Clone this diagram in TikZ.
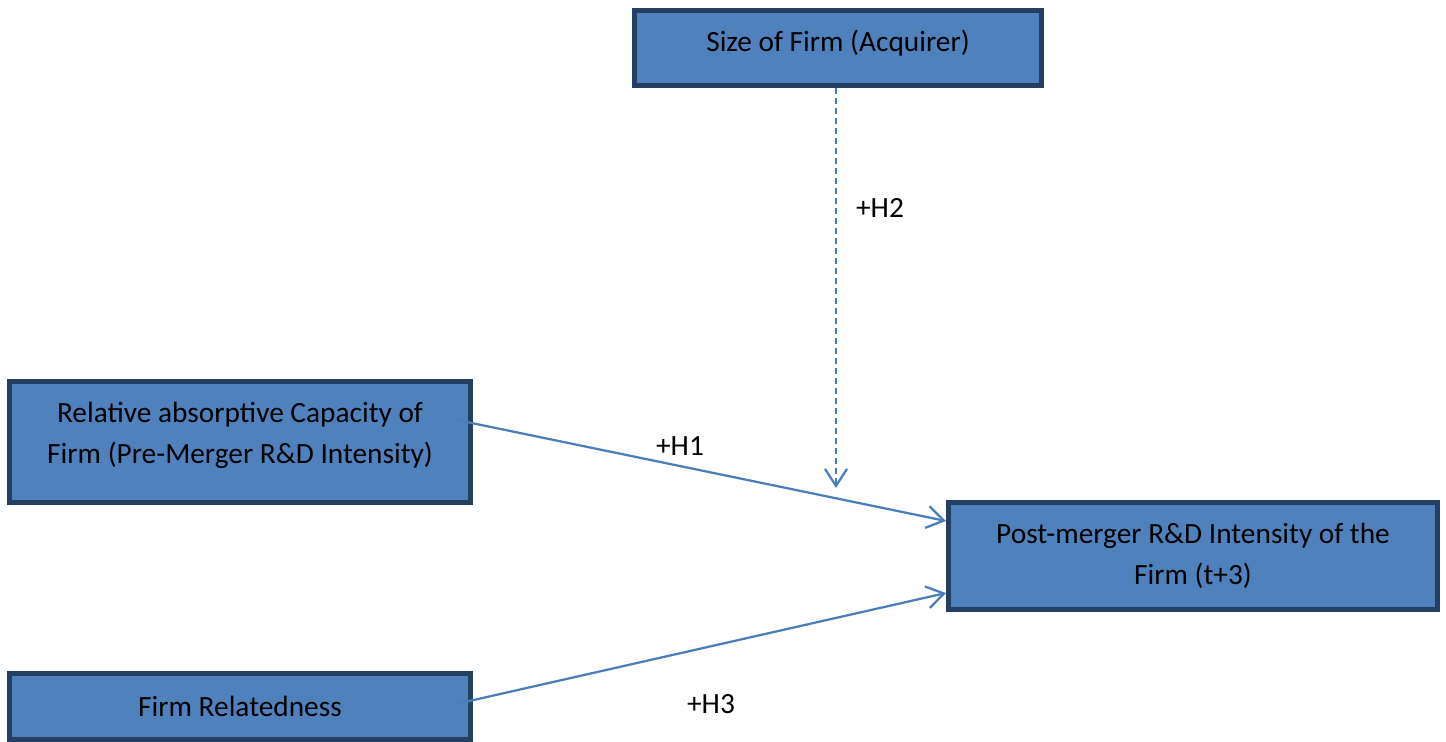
\documentclass[tikz,border=0pt]{standalone}
\usepackage{fontspec}
\setmainfont{Carlito}
\usetikzlibrary{arrows.meta}
\definecolor{boxfill}{HTML}{4F81BD}
\definecolor{boxline}{HTML}{253F62}
\definecolor{arrowblue}{HTML}{4A7EBB}
\begin{document}
\begin{tikzpicture}[
  box/.style={draw=boxline, fill=boxfill, line width=0.1cm, inner sep=0pt,
    font=\fontsize{16.7}{23.3}\selectfont},
  link/.style={draw=arrowblue, line width=0.045cm,
    -{Straight Barb[length=0.34cm, width=0.44cm]}},
  hyp/.style={font=\fontsize{16.7}{20}\selectfont}]

\useasboundingbox (0,0) rectangle (28.92,-14.84);

%Box Drawings

\node [box, minimum width=8.14cm, minimum height=1.5cm] (size) at (16.76,-0.96)
  {\raisebox{-0.08cm}[0pt][0pt]{Size of Firm (Acquirer)}};
\node [box, minimum width=9.22cm, minimum height=2.42cm] (absorb) at (4.8,-8.84)
  {\raisebox{0pt}[0pt][0pt]{\begin{tabular}{@{}c@{}}Relative absorptive Capacity of\\Firm (Pre-Merger R\&D Intensity)\end{tabular}}};
\node [box, minimum width=9.78cm, minimum height=2.14cm] (post) at (23.86,-11.12)
  {\begin{tabular}{@{}c@{}}Post-merger R\&D Intensity of the\\Firm (t+3)\end{tabular}};
\node [box, minimum width=9.22cm, minimum height=1.32cm] (related) at (4.8,-14.12)
  {Firm Relatedness};

%Arrow Drawings

\coordinate (absorbout) at ([xshift=-0.32cm, yshift=0.44cm]absorb.east);
\coordinate (relatedout) at ([xshift=-0.34cm, yshift=0.04cm]related.east);

\draw [link, dash pattern=on 0.12cm off 0.08cm, shorten >=0.24cm]
  ([xshift=-0.04cm]size.south) -- ([xshift=-0.04cm]size.south |- post.north);
\draw [link] (absorbout) -- ([yshift=0.7cm]post.west);
\draw [link] (relatedout) -- ([yshift=-0.74cm]post.west);

%Hypothesis labels

\node [hyp] (h2) at (17.6,-4.16) {+H2};
\node [hyp] (h1) at (13.6,-8.92) {+H1};
\node [hyp] (h3) at (14.22,-14.08) {+H3};

\end{tikzpicture}
\end{document}
